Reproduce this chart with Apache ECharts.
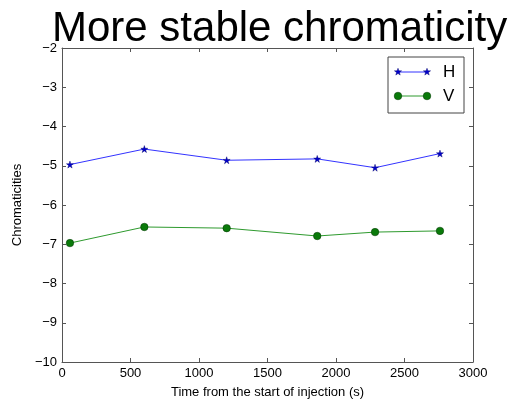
<!DOCTYPE html>
<html>
<head>
<meta charset="utf-8">
<script src="https://cdn.jsdelivr.net/npm/echarts@6/dist/echarts.min.js"></script>
<style>
  html, body { margin: 0; padding: 0; background: #fff; }
  #chart { width: 510px; height: 404px; }
</style>
</head>
<body>
<div id="chart"></div>
<script>
// Sample times (s) and measured chromaticities
const timesH = [58, 601, 1202, 1863, 2285, 2759];
const valuesH = [-4.97, -4.575, -4.86, -4.825, -5.05, -4.69];
const timesV = [58, 601, 1202, 1863, 2285, 2759];
const valuesV = [-6.97, -6.56, -6.59, -6.79, -6.69, -6.66];

const xTicks = [0, 500, 1000, 1500, 2000, 2500, 3000];
const yTicks = [-10, -9, -8, -7, -6, -5, -4, -3, -2];

const FONT = '"Liberation Sans", Arial, Helvetica, sans-serif';
const STAR = 'path://M50,0 L61.8,35.1 L98.9,35.1 L69.1,56.9 L80.3,92 L50,70.2 L19.7,92 L30.9,56.9 L1.1,35.1 L38.2,35.1 Z';

// five-pointed star outline for the legend key
function starPoints(cx, cy, r) {
  const pts = [];
  for (let i = 0; i < 10; i++) {
    const rad = i % 2 === 0 ? r : r * 0.4;
    const a = -Math.PI / 2 + i * Math.PI / 5;
    pts.push([cx + rad * Math.cos(a), cy + rad * Math.sin(a)]);
  }
  return pts;
}

const fmtMinus = v => (v < 0 ? '\u2212' + Math.abs(v) : String(v));

const chart = echarts.init(document.getElementById('chart'), null, { renderer: 'canvas' });

const baseX = {
  type: 'value',
  min: xTicks[0], max: xTicks[xTicks.length - 1], interval: 500,
  splitLine: { show: false },
  axisLine: { show: true, onZero: false, lineStyle: { color: '#555', width: 1 } },
  axisTick: { show: true, inside: true, length: 4, lineStyle: { color: '#555' } }
};
const baseY = {
  type: 'value',
  min: yTicks[0], max: yTicks[yTicks.length - 1], interval: 1,
  splitLine: { show: false },
  axisLine: { show: true, onZero: false, lineStyle: { color: '#555', width: 1 } },
  axisTick: { show: true, inside: true, length: 4, lineStyle: { color: '#555' } }
};

const LX = 388, LY = 57;

chart.setOption({
  animation: false,
  backgroundColor: '#fff',
  title: {
    text: 'More stable chromaticity',
    left: 47, top: 3,
    textStyle: { fontFamily: FONT, fontSize: 42, fontWeight: 'normal', color: '#000' }
  },
  grid: { left: 62, right: 37, top: 48, bottom: 36, containLabel: false },
  xAxis: [
    Object.assign({}, baseX, {
      position: 'bottom',
      name: 'Time from the start of injection (s)',
      nameLocation: 'middle', nameGap: 24,
      nameTextStyle: { fontFamily: FONT, fontSize: 13, color: '#000' },
      axisLabel: { fontFamily: FONT, fontSize: 13, color: '#000', margin: 5, formatter: fmtMinus }
    }),
    Object.assign({}, baseX, { position: 'top', axisLabel: { show: false } })
  ],
  yAxis: [
    Object.assign({}, baseY, {
      position: 'left',
      name: 'Chromaticities',
      nameLocation: 'middle', nameGap: 34,
      nameTextStyle: { fontFamily: FONT, fontSize: 13, color: '#000' },
      axisLabel: { fontFamily: FONT, fontSize: 13, color: '#000', margin: 5, formatter: fmtMinus }
    }),
    Object.assign({}, baseY, { position: 'right', axisLabel: { show: false } })
  ],
  series: [
    {
      name: 'H', type: 'line',
      data: timesH.map((t, i) => [t, valuesH[i]]),
      symbol: STAR, symbolSize: 7, showSymbol: true,
      lineStyle: { color: '#3333ff', width: 1 },
      itemStyle: { color: '#0000cc', borderColor: '#000066', borderWidth: 0.4 }
    },
    {
      name: 'V', type: 'line',
      data: timesV.map((t, i) => [t, valuesV[i]]),
      symbol: 'circle', symbolSize: 7.5, showSymbol: true,
      lineStyle: { color: '#2e9a2e', width: 1 },
      itemStyle: { color: '#0a7a0a', borderColor: '#003300', borderWidth: 0.5 }
    }
  ],
  graphic: [
    { type: 'rect', shape: { x: LX, y: LY, width: 76, height: 56 },
      style: { fill: '#fff', stroke: '#444', lineWidth: 1 }, z: 10 },
    { type: 'line', shape: { x1: LX + 10, y1: LY + 15, x2: LX + 39, y2: LY + 15 },
      style: { stroke: '#3333ff', lineWidth: 1 }, z: 11 },
    { type: 'polygon', shape: { points: starPoints(LX + 10, LY + 15, 3.8) },
      style: { fill: '#0000cc', stroke: '#000066', lineWidth: 0.4 }, z: 12 },
    { type: 'polygon', shape: { points: starPoints(LX + 39, LY + 15, 3.8) },
      style: { fill: '#0000cc', stroke: '#000066', lineWidth: 0.4 }, z: 12 },
    { type: 'text', x: LX + 55, y: LY + 15, z: 12,
      style: { text: 'H', font: '17px ' + FONT, fill: '#000', verticalAlign: 'middle' } },
    { type: 'line', shape: { x1: LX + 10, y1: LY + 39, x2: LX + 39, y2: LY + 39 },
      style: { stroke: '#2e9a2e', lineWidth: 1 }, z: 11 },
    { type: 'circle', shape: { cx: LX + 10, cy: LY + 39, r: 3.8 },
      style: { fill: '#0a7a0a', stroke: '#003300', lineWidth: 0.5 }, z: 12 },
    { type: 'circle', shape: { cx: LX + 39, cy: LY + 39, r: 3.8 },
      style: { fill: '#0a7a0a', stroke: '#003300', lineWidth: 0.5 }, z: 12 },
    { type: 'text', x: LX + 55, y: LY + 39, z: 12,
      style: { text: 'V', font: '17px ' + FONT, fill: '#000', verticalAlign: 'middle' } }
  ]
});
</script>
</body>
</html>
